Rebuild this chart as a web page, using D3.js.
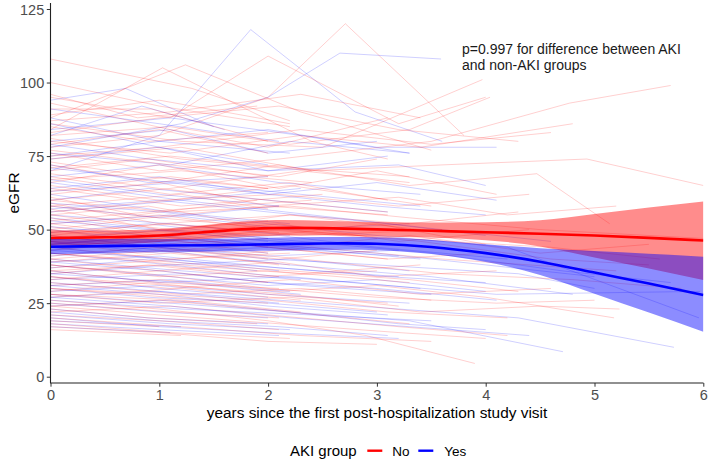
<!DOCTYPE html>
<html><head><meta charset="utf-8">
<script src="https://cdn.jsdelivr.net/npm/d3@7"></script>
<style>body{margin:0;background:#fff}svg{display:block;font-family:"Liberation Sans",Arial,Helvetica,sans-serif}</style>
</head><body><svg id="c" width="708" height="460"></svg>
<script>
// Individual trajectories, flattened [t0,v0,t1,v1,...] (years, eGFR)
const noTrajectories = [
[0,108,1.3,98,2.2,87],[0,84,1.03,105,2.4,80,3.1,74],[0,88,1.24,106,2.3,90,3.5,77],[0,91,0.93,91,2.0,80],
[0,95,1.1,88,2.0,109,3.2,86,4.0,95],[0,78,1.0,82,2.0,95,2.71,120,3.8,82],[0,86,1.2,80,2.5,78,3.97,101],
[0,82,1.1,85,2.2,79,3.3,84,4.04,95],[0,76,1.0,70,2.1,74,3.5,80,4.77,93,5.7,99],[0,80,1.1,76,2.3,82,3.4,78,4.8,86],
[0,74,1.2,78,2.4,70,3.6,72,4.93,74,6.0,65],[0,72,1.0,66,2.1,72,3.3,65,4.47,69,5.14,52],[0,70,0.9,74,2.0,68],
[0,68,1.1,62,2.2,66,3.1,60],[0,66,1.0,72,2.1,64,3.0,70,4.1,62],[0,64,1.2,58,2.5,62],
[0,62,1.0,66,2.0,58,3.2,61,4.2,55,5.2,58],[0,61,0.8,55,1.9,60],[0,60,1.1,64,2.3,70,3.3,66],[0,59,1.0,52,2.2,55,3.4,50],
[0,58,1.2,62,2.0,57],[0,57,1.0,50,2.0,48,3.0,52,4.0,45],[0,56,1.1,60,2.2,65,3.5,58],[0,55,0.9,58,1.8,52],
[0,54,1.0,48,2.1,52,3.2,46,4.4,50],[0,53,1.2,57,2.4,60],[0,52,1.0,55,2.0,50,3.0,47],
[0,51,1.1,46,2.2,44,3.3,48,4.5,42,5.5,45],[0,50,0.9,54,2.0,58,3.1,55],[0,50,1.0,45,2.0,47],
[0,49,1.1,52,2.3,48,3.6,50],[0,48,1.0,44,2.1,40,3.0,43],[0,47,1.2,50,2.2,55,3.3,52,4.3,56],[0,46,0.8,42,2.0,45],
[0,45,1.0,48,2.0,44,3.1,40,4.0,42],[0,44,1.1,40,2.2,42],[0,43,1.0,46,2.1,50,3.2,47,4.6,44,5.6,40],
[0,42,1.2,38,2.3,35,3.4,38],[0,41,0.9,44,2.0,40],[0,40,1.0,36,2.1,39,3.0,34,4.1,36],[0,39,1.1,42,2.2,38],
[0,38,1.0,34,2.0,36,3.3,32],[0,37,1.2,40,2.4,44,3.6,40,5.2,36],[0,36,1.0,32,2.1,30],[0,35,0.9,38,1.9,34,3.0,36],
[0,34,1.1,30,2.2,33,3.4,28,4.6,30],[0,33,1.0,36,2.0,32],[0,32,1.2,28,2.3,30,3.5,26],
[0,31,1.0,33,2.1,29,3.0,31,4.0,27,5.18,20],[0,30,1.1,27,2.0,25],[0,29,0.9,32,2.0,28,3.1,25],
[0,28,1.0,25,2.2,27,3.4,22,4.5,24,5.23,23],[0,27,1.2,30,2.3,26],[0,26,1.0,23,2.0,19,2.9,14,3.9,4.5],
[0,25,1.1,22,2.1,20],[0,24,1.0,26,2.2,22,3.3,18],[0,23,0.9,20,1.9,18],[0,22,1.1,24,2.0,21,3.2,17,4.2,14],
[0,21,1.0,19,2.1,16],[0,20,1.2,17,2.3,14,3.5,12],[0,19,1.0,17],[0,18,1.1,15,2.2,13],[0,17,1.0,15,2.0,12,3.0,11],
[0,16,1.2,14],[0,100,1.0,92,2.2,85],[0,96,0.8,88,1.9,92],[0,93,1.1,84,2.0,78,3.1,88],[0,89,1.0,94,2.2,86],
[0,87,1.1,90,2.3,96,3.4,88],[0,85,0.9,80,2.0,83],[0,83,1.0,88,2.1,92,3.2,84,4.3,80],[0,81,1.2,74,2.4,70],
[0,79,1.0,84,2.0,76],[0,77,1.1,72,2.1,68,3.0,74],[0,75,1.0,78,2.3,84,3.5,79,4.6,83],[0,73,0.9,68,2.0,64],
[0,71,1.1,75,2.2,71,3.3,68],[0,69,1.0,64,2.0,60,3.1,56],[0,67,1.2,70,2.4,66],[0,65,1.0,60,2.1,62,3.2,58,4.4,62],
[0,63,1.1,68,2.0,64],[0,58,1.0,54,2.2,50,3.4,46,4.6,40,5.5,38],[0,55,1.1,50,2.0,53],[0,52,0.9,48,2.0,44,3.1,40],
[0,48,1.0,52,2.1,49],[0,46,1.2,44,2.3,40,3.6,35,4.8,33,5.8,30],[0,44,1.0,47,2.0,42],[0,42,1.1,39,2.2,36,3.3,33,4.3,29],
[0,40,1.0,43,2.1,38],[0,38,0.9,35,2.0,30,3.0,27,4.1,25,5.0,26],[0,36,1.0,38,2.1,34],[0,34,1.1,31,2.2,28,3.2,24],
[0,30,1.0,28,2.0,26,3.1,22,4.2,20],[0,28,1.2,26,2.3,22],[0,24,1.0,21,2.1,18,3.2,15,4.0,13],
[0,60,1.1,56,2.2,58,3.3,54,4.5,50,6.0,47]
];
const yesTrajectories = [
[0,94,0.69,98,1.5,85],[0,82,0.84,92,1.6,84],[0,70,1.0,82,1.84,118,2.8,90,3.6,80],[0,78,1.2,86,2.0,95,2.66,110,3.59,108],
[0,88,1.0,80,2.0,84,3.0,78,4.1,78],[0,76,1.1,72,2.2,80,3.3,76],[0,74,1.0,78,2.0,70,3.2,72,4.0,65],[0,72,0.9,66,2.0,68],
[0,80,1.1,84,2.0,76,3.0,80],[0,68,1.0,72,2.1,66,3.4,62],[0,66,1.2,60,2.3,64],[0,64,1.0,68,2.0,62,3.0,66,4.1,60],
[0,62,1.1,56,2.2,52],[0,60,0.9,64,2.0,60,3.1,56],[0,58,1.0,54,2.1,58],[0,56,1.2,60,2.4,55,3.6,50,4.6,46],
[0,54,1.0,50,2.0,46],[0,52,1.1,55,2.2,50,3.3,52],[0,50,1.0,46,2.1,48,3.0,44,4.2,40],[0,49,0.9,52,2.0,47],
[0,48,1.0,44,2.0,41,3.2,43],[0,47,1.1,50,2.3,46,3.5,42,4.7,36,5.7,32],[0,46,1.0,42,2.0,44],[0,45,1.2,48,2.2,44,3.4,40],
[0,44,1.0,40,2.1,37,3.1,34,4.0,32],[0,43,0.9,46,2.0,42],[0,42,1.1,38,2.2,40,3.3,36],
[0,41,1.0,44,2.0,40,3.0,38,4.3,35,5.0,30],[0,40,1.2,36,2.3,33],[0,39,1.0,41,2.1,37,3.2,34],
[0,38,1.1,34,2.0,31,3.0,33,4.0,29],[0,37,0.9,40,1.9,36],[0,36,1.0,32,2.2,34,3.4,30],
[0,35,1.1,38,2.1,34,3.1,31,4.1,28,5.97,29],[0,34,1.0,30,2.0,27],[0,33,1.2,35,2.3,31,3.5,28],
[0,32,1.0,29,2.1,26,3.2,23,4.3,20,5.73,10],[0,31,1.1,33,2.2,29],[0,30,0.9,27,2.0,25,3.0,22],[0,29,1.0,31,2.0,28,3.3,25],
[0,28,1.1,25,2.2,22,3.3,19,4.71,8.5],[0,27,1.0,29,2.1,25],[0,26,1.2,23,2.4,21,3.5,19],[0,25,1.0,22,2.0,20],
[0,24,1.1,26,2.2,22,3.2,18,4.0,16],[0,23,0.9,20,2.0,18],[0,22,1.0,19,2.1,17,3.1,14],[0,21,1.1,18,2.2,16],
[0,20,1.0,17,2.0,15,3.2,13],[0,19,1.2,17],[0,18,1.0,16,2.1,14],[0,17,1.1,15],[0,86,1.0,78,2.0,72],
[0,84,1.1,88,2.3,82,3.3,76],[0,79,0.9,74,2.0,70,3.1,75],[0,75,1.0,80,2.2,76],[0,71,1.1,66,2.0,62,3.0,58,4.0,55],
[0,67,1.0,62,2.1,58],[0,63,1.2,66,2.3,62,3.4,58],[0,59,1.0,56,2.0,52,3.0,48,4.2,44,5.96,20],[0,55,1.1,52,2.2,48],
[0,51,0.9,48,2.0,44,3.2,41],[0,47,1.0,43,2.2,38,3.5,34,4.8,28],[0,43,1.1,40,2.1,36],[0,39,1.0,36,2.0,32,3.0,30,4.1,26],
[0,35,1.2,32,2.3,28],[0,31,1.0,28,2.0,24,3.1,21],[0,27,1.1,24,2.2,20,3.3,17,4.4,14],[0,91,1.0,86,2.1,80],
[0,57,1.0,60,2.0,56,3.1,52,4.0,48],[0,53,1.2,49,2.4,45],[0,45,1.0,48,2.0,45,3.0,42,4.0,38,5.0,34]
];
// Smoothed fits (loess) with confidence bands
const fitTimes = [0,0.5,1,1.5,2,2.5,3,3.5,4,4.5,5,5.5,6];
const noFit   = [47.1,47.4,48.0,49.4,50.5,50.5,50.1,49.6,49.1,48.6,48.0,47.2,46.3];
const noLower = [44.4,45.0,45.8,47.0,47.9,48.1,47.7,47.3,46.4,44.3,40.5,36.8,32.9];
const noUpper = [49.8,49.7,50.2,51.8,53.2,53.0,52.6,52.4,52.5,53.2,55.3,57.5,59.6];
const yesFit   = [44.2,44.4,44.6,44.7,45.0,45.3,45.2,44.1,42.0,39.1,35.4,31.7,27.8];
const yesLower = [41.6,42.0,42.4,42.6,42.8,43.1,43.0,41.7,39.0,34.6,28.2,21.8,15.3];
const yesUpper = [46.8,46.8,46.8,46.8,47.2,47.5,47.4,46.5,45.0,43.7,42.7,41.8,40.8];
const xTicks = [0,1,2,3,4,5,6];
const yTicks = [0,25,50,75,100,125];
const groups = ["No","Yes"];
const groupColors = ["#FF0000","#0000FF"];
const legendTitle = "AKI group";
const xTitle = "years since the first post-hospitalization study visit";
const yTitle = "eGFR";
const note = ["p=0.997 for difference between AKI","and non-AKI groups"];

const svg = d3.select("#c");
const x = d3.scaleLinear().domain([0,6]).range([50.5,703.3]);
const y = d3.scaleLinear().domain([0,125]).range([376.7,9]);
const color = d3.scaleOrdinal().domain(groups).range(groupColors);
const pL=50.5, pR=703.5, pT=3, pB=383;

svg.append("defs").append("clipPath").attr("id","clip")
  .append("rect").attr("x",pL).attr("y",pT).attr("width",pR-pL).attr("height",pB-pT);
const plot = svg.append("g").attr("clip-path","url(#clip)");

const toPts = arr => { const p=[]; for(let i=0;i<arr.length;i+=2) p.push([arr[i],arr[i+1]]); return p; };
const line = d3.line().x(d=>x(d[0])).y(d=>y(d[1]));
const spag = [];
const n = Math.max(noTrajectories.length, yesTrajectories.length);
for(let i=0;i<n;i++){
  if(i<noTrajectories.length) spag.push({g:"No",pts:toPts(noTrajectories[i])});
  if(i<yesTrajectories.length) spag.push({g:"Yes",pts:toPts(yesTrajectories[i])});
}
plot.append("g").selectAll("path").data(spag).join("path")
  .attr("d",d=>line(d.pts)).attr("fill","none")
  .attr("stroke",d=>color(d.g)).attr("stroke-opacity",0.19).attr("stroke-width",1);

const fits = [
  {g:"No",fit:noFit,lo:noLower,hi:noUpper},
  {g:"Yes",fit:yesFit,lo:yesLower,hi:yesUpper}
];
const area = d3.area().curve(d3.curveNatural).x(d=>x(d.t)).y0(d=>y(d.lo)).y1(d=>y(d.hi));
const fline = d3.line().curve(d3.curveNatural).x(d=>x(d.t)).y(d=>y(d.v));
fits.forEach(f=>{
  const pts = fitTimes.map((t,i)=>({t,v:f.fit[i],lo:f.lo[i],hi:f.hi[i]}));
  plot.append("path").attr("d",area(pts)).attr("fill",color(f.g)).attr("fill-opacity",0.45);
  plot.append("path").attr("d",fline(pts)).attr("fill","none").attr("stroke",color(f.g)).attr("stroke-width",2.6);
});

// axes
const tickCol="#333333", labCol="#4d4d4d";
const gx = svg.append("g").attr("transform",`translate(0,${pB})`)
  .call(d3.axisBottom(x).tickValues(xTicks).tickSize(3.7).tickPadding(3.5).tickFormat(d3.format("d")));
const gy = svg.append("g").attr("transform",`translate(${pL},0)`)
  .call(d3.axisLeft(y).tickValues(yTicks).tickSize(3.7).tickPadding(2.6).tickFormat(d3.format("d")));
[gx,gy].forEach(g=>{
  g.select(".domain").remove();
  g.selectAll(".tick line").attr("stroke",tickCol).attr("stroke-width",1);
  g.selectAll(".tick text").attr("fill",labCol).attr("font-size","14.5px").attr("font-family","Liberation Sans, Arial, sans-serif");
});
gy.selectAll(".tick text").attr("dy","0.36em");
svg.append("line").attr("x1",pL).attr("x2",pL).attr("y1",pT).attr("y2",pB).attr("stroke","#222").attr("stroke-width",1.1);
svg.append("line").attr("x1",pL-0.5).attr("x2",pR).attr("y1",pB).attr("y2",pB).attr("stroke","#222").attr("stroke-width",1.1);

svg.append("text").attr("x",(pL+pR)/2).attr("y",418).attr("text-anchor","middle")
  .attr("font-size","15.4px").attr("fill","#000").text(xTitle);
svg.append("text").attr("transform",`translate(19,${(pT+pB)/2}) rotate(-90)`).attr("text-anchor","middle")
  .attr("font-size","15.4px").attr("fill","#000").text(yTitle);

const nt = svg.append("text").attr("x",462).attr("y",54).attr("font-size","14px").attr("fill","#1a1a1a");
note.forEach((s,i)=>nt.append("tspan").attr("x",462).attr("dy",i?16:0).text(s));

// legend
const lg = svg.append("g");
lg.append("text").attr("x",290).attr("y",456).attr("font-size","15px").attr("fill","#000").text(legendTitle);
const keyX=[367.3,418.3], labX=[392.3,444.3];
groups.forEach((g,i)=>{
  lg.append("line").attr("x1",keyX[i]).attr("x2",keyX[i]+15).attr("y1",450.7).attr("y2",450.7)
    .attr("stroke",color(g)).attr("stroke-width",2.4);
  lg.append("text").attr("x",labX[i]).attr("y",456).attr("font-size","13.5px").attr("fill","#000").text(g);
});
</script></body></html>
